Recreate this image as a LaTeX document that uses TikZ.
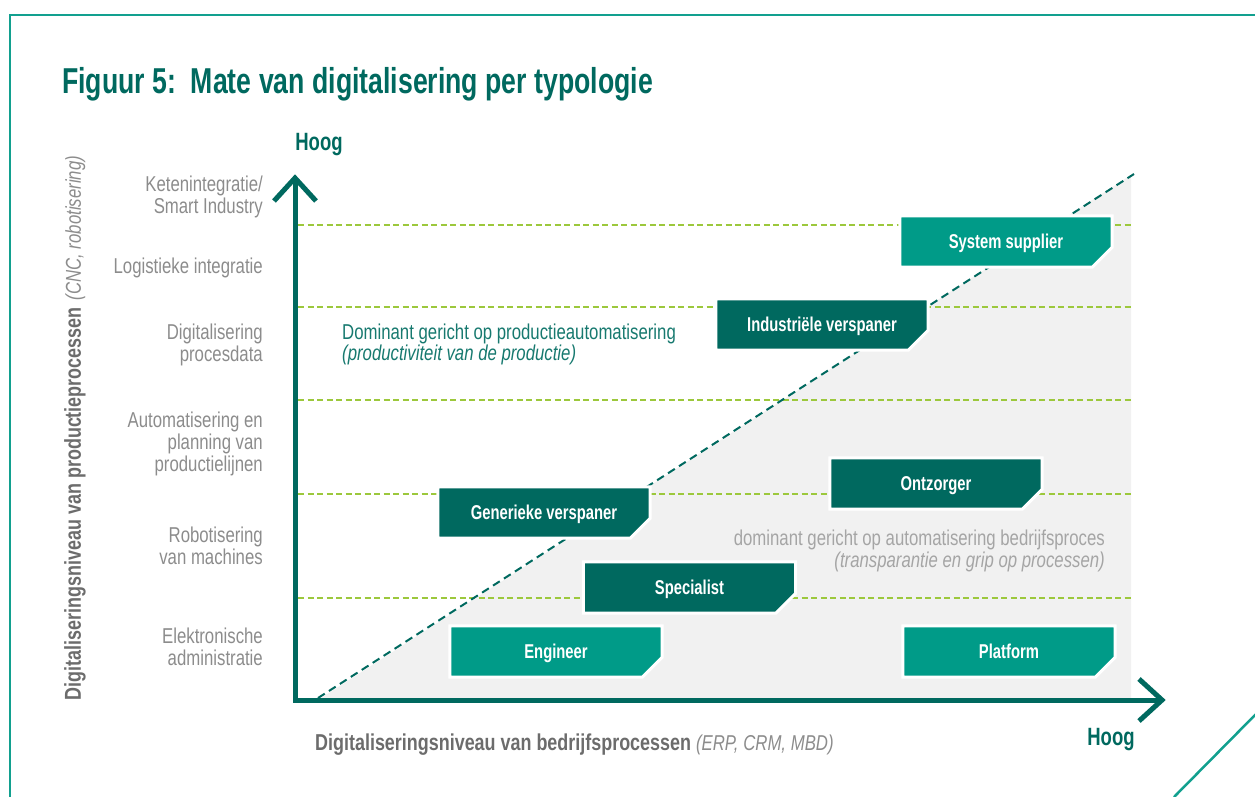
\documentclass[tikz,border=0pt]{standalone}
\usepackage{fontspec}
\setmainfont[FakeStretch=0.78]{Liberation Sans}
\newfontfamily\condfont[FakeStretch=0.74]{Liberation Sans}
\usetikzlibrary{calc}

\definecolor{tealdark}{HTML}{00695F}
\definecolor{teallight}{HTML}{009B88}
\definecolor{frameteal}{HTML}{12A08F}
\definecolor{gridgreen}{HTML}{9CC83C}
\definecolor{zonegray}{HTML}{F1F1F1}
\definecolor{labelgray}{HTML}{8C8C8C}
\definecolor{axisgray}{HTML}{6C6C6C}
\definecolor{notegray}{HTML}{A5A5A5}
\definecolor{noteteal}{HTML}{17796F}

\pgfdeclarelayer{zone}
\pgfdeclarelayer{plates}
\pgfsetlayers{zone,plates,main}

\tikzset{
  frameline/.style={draw=frameteal, line width=2.5pt},
  axisline/.style={draw=tealdark, line width=5pt, line join=miter},
  levelline/.style={draw=gridgreen, line width=2pt, dash pattern=on 6pt off 3.5pt},
  divider/.style={draw=tealdark, line width=2pt, dash pattern=on 8pt off 5pt},
  plate/.style={font=\condfont\bfseries\fontsize{20}{22}\selectfont, text=white,
    minimum width=212pt, minimum height=51pt, inner sep=0pt,
    text height=14.5pt, text depth=0pt},
  level/.style={font=\fontsize{21.5}{22}\selectfont, text=labelgray,
    align=right, anchor=east, inner sep=0pt},
  hoog/.style={font=\condfont\bfseries\fontsize{25}{27}\selectfont, text=tealdark, inner sep=0pt},
}

% typology plate: rectangle with a cut lower-right corner
\newcommand\plate[4]{%
  \node[plate] (#1) at (#2) {#4};
  \begin{pgfonlayer}{plates}
    \filldraw[fill=#3, draw=white, line width=3pt]
      (#1.north west) -- (#1.north east) -- ($(#1.south east)+(0,-20)$)
      -- ($(#1.south east)+(-20,0)$) -- (#1.south west) -- cycle;
  \end{pgfonlayer}}

\begin{document}
\begin{tikzpicture}[x=1pt, y=-1pt]
\useasboundingbox (0,0) rectangle (1255,796);

% frame
\draw[frameline] (10,797) -- (10,15) -- (1256,15);
\draw[frameline] (1174,797) -- (1256,714);

% title
\node[anchor=base west, inner sep=0pt, text=tealdark,
  font=\condfont\bfseries\fontsize{36}{38}\selectfont] (title) at (62,93)
  {Figuur 5:\ \ Mate van digitalisering per typologie};

% axes reference points
\coordinate (origin) at (295,700);
\coordinate (ytip) at (295,178);
\coordinate (xtip) at (1162,700);
\coordinate (dstart) at (318,698);
\coordinate (dend) at (1134,174);

% shaded zone, level lines and the dashed divider
\begin{pgfonlayer}{zone}
  \fill[zonegray] (318,700) -- (1131,175) -- (1131,700) -- cycle;
  \foreach \yy in {225,307,400,494,598}
    \draw[levelline] (298,\yy) -- (1131,\yy);
  \draw[divider] (dstart) -- (dend);
\end{pgfonlayer}

% axes
\draw[axisline] (ytip) -- (origin) -- (xtip);
\draw[axisline] ($(ytip)+(-21,23)$) -- (ytip) -- ($(ytip)+(21,23)$);
\draw[axisline] ($(xtip)+(-23,-21)$) -- (xtip) -- ($(xtip)+(-23,21)$);
\node[hoog] (hoogy) at (319,145) {Hoog};
\node[hoog] (hoogx) at (1111,740) {Hoog};

% level labels
\node[level] (l6) at (263,196.5) {Ketenintegratie/\\Smart Industry};
\node[level] (l5) at (263,268) {Logistieke integratie};
\node[level] (l4) at (263,345) {Digitalisering\\procesdata};
\node[level] (l3) at (263,444) {Automatisering en\\planning van\\productielijnen};
\node[level] (l2) at (263,545.5) {Robotisering\\van machines};
\node[level] (l1) at (263,646.5) {Elektronische\\administratie};

% axis titles
\node[rotate=90, inner sep=0pt] (ytitle) at (75,428)
  {{\color{axisgray}\bfseries\fontsize{23}{25}\selectfont Digitaliseringsniveau van productieprocessen}\hspace{7pt}%
   {\color{labelgray}\itshape\fontsize{21.5}{22}\selectfont (CNC, robotisering)}};
\node[anchor=west, inner sep=0pt] (xtitle) at (315,745)
  {{\color{axisgray}\bfseries\fontsize{23}{25}\selectfont Digitaliseringsniveau van bedrijfsprocessen}\hspace{5pt}%
   {\color{labelgray}\itshape\fontsize{21.5}{22}\selectfont (ERP, CRM, MBD)}};

% zone notes
\node[anchor=west, align=left, inner sep=0pt, text=noteteal,
  font=\fontsize{21.5}{21.5}\selectfont] (noteprod) at (342,344.5)
  {Dominant gericht op productieautomatisering\\\textit{(productiviteit van de productie)}};
\node[anchor=east, align=right, inner sep=0pt, text=notegray,
  font=\fontsize{21.5}{21.5}\selectfont] (notebiz) at (1105,551)
  {dominant gericht op automatisering bedrijfsproces\\\textit{(transparantie en grip op processen)}};

% typologies
\plate{sys}{1006,241.5}{teallight}{System supplier}
\plate{ind}{822,324.5}{tealdark}{Industriële verspaner}
\plate{ont}{936,483.5}{tealdark}{Ontzorger}
\plate{gen}{544,512.5}{tealdark}{Generieke verspaner}
\plate{spec}{689.5,587.5}{tealdark}{Specialist}
\plate{eng}{556,651.5}{teallight}{Engineer}
\plate{plat}{1009,651.5}{teallight}{Platform}
\end{tikzpicture}
\end{document}
